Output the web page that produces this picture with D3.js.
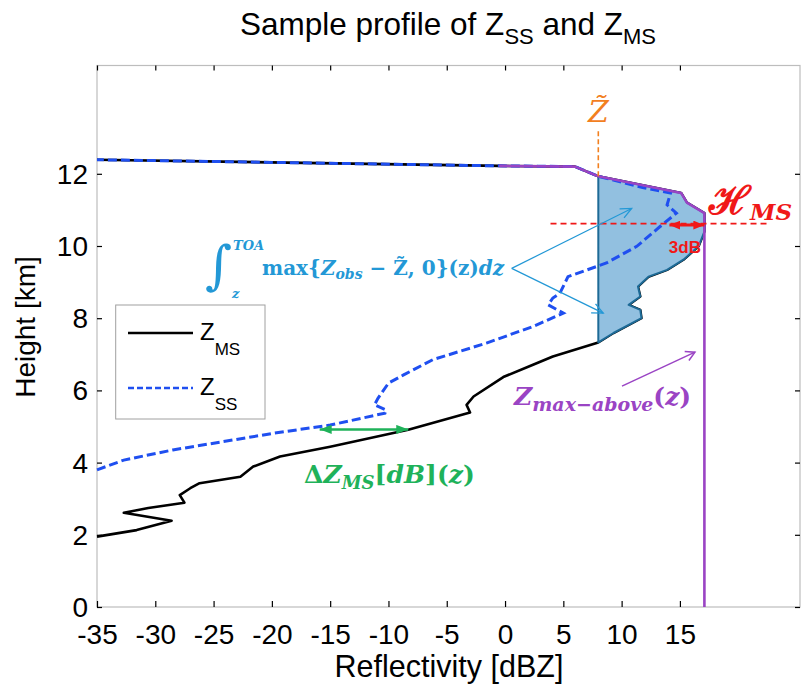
<!DOCTYPE html>
<html><head><meta charset="utf-8">
<script src="https://cdn.jsdelivr.net/npm/d3@7"></script>
<style>body{margin:0;background:#fff} svg{display:block}</style>
</head><body>
<svg id="chart" width="806" height="688"></svg>
<script>
// ---------- data ----------
const xDomain = [-35, 25.3];
const yDomain = [0, 15];
const xTicks = [-35, -30, -25, -20, -15, -10, -5, 0, 5, 10, 15];
const yTicks = [0, 2, 4, 6, 8, 10, 12];

// Z_MS profile [reflectivity dBZ, height km], bottom to top
const zmsProfile = [
  [-35, 1.95], [-31.6, 2.13], [-28.6, 2.39], [-32.7, 2.61], [-30.6, 2.74], [-27.5, 2.89],
  [-27.9, 3.10], [-27.0, 3.29], [-26.2, 3.43], [-22.7, 3.61], [-21.6, 3.89], [-19.3, 4.17],
  [-15.0, 4.44], [-8.3, 4.91], [-3.0, 5.39], [-3.3, 5.60], [-2.7, 5.83], [-0.15, 6.37],
  [2.4, 6.71], [4.1, 6.94], [8.0, 7.33], [9.3, 7.59], [11.7, 8.00], [11.6, 8.23],
  [10.6, 8.37], [11.6, 8.60], [11.4, 8.88], [12.3, 9.15], [13.9, 9.34], [15.3, 9.62],
  [16.6, 9.99], [17.1, 10.40], [17.1, 10.91], [15.6, 11.20], [15.1, 11.47], [8.0, 11.93],
  [6.0, 12.20], [-0.5, 12.22], [-35, 12.39]
];
// Z_SS profile
const zssProfile = [
  [-35, 3.80], [-32.7, 4.07], [-28.5, 4.35], [-24.2, 4.58], [-19.9, 4.81], [-15.0, 5.04],
  [-10.3, 5.37], [-10.2, 5.46], [-11.2, 5.60], [-10.9, 5.78], [-10.0, 6.20], [-8.7, 6.43],
  [-6.2, 6.85], [-1.6, 7.31], [2.4, 7.77], [5.0, 8.14], [3.7, 8.37], [4.1, 8.56],
  [4.7, 8.69], [5.4, 9.15], [8.7, 9.53], [11.3, 9.99], [13.3, 10.54], [14.7, 10.91],
  [13.9, 11.14], [14.2, 11.47], [11.8, 11.62], [8.0, 11.93], [6.0, 12.20], [-0.5, 12.22],
  [-35, 12.39]
];
// Z_max-above(z)
const zMaxAbove = [
  [-0.5, 12.22], [6.0, 12.20], [8.0, 11.93], [15.1, 11.47], [15.6, 11.20], [17.1, 10.91], [17.1, 0]
];
const zTilde = 8.0;
const zTildeTop = 13.2;
const hmsHeight = 10.62;
const hmsPeak = 17.1;
const hmsDrop = 3;
const hmsLineRange = [3.9, 22.7];
const deltaHeight = 4.92;
const deltaRange = [-15.9, -8.3];
const integralArrowFrom = [0.57, 9.38];
const integralArrowTo = [[10.86, 11.04], [8.42, 8.14]];
const maxAboveArrow = [[10.03, 6.12], [16.29, 7.06]];

// ---------- scales ----------
const svg = d3.select('#chart');
const x = d3.scaleLinear().domain(xDomain).range([97, 800]);
const y = d3.scaleLinear().domain(yDomain).range([607, 65.5]);
const line = d3.line().x(d => x(d[0])).y(d => y(d[1]));

const C = {
  ms: '#000', ss: '#1f4ff0', purple: '#9a44c4', orange: '#f2801f', red: '#f01818',
  green: '#1fb25a', cyan: '#2398d6', fill: '#92c0e0', fillStroke: '#1d6a96', frame: '#bdbdbd'
};

// ---------- markers ----------
const defs = svg.append('defs');
function filledMarker(id, color, len, half) {
  defs.append('marker').attr('id', id).attr('markerUnits', 'userSpaceOnUse')
    .attr('viewBox', `0 ${-half} ${len} ${2 * half}`).attr('refX', len).attr('refY', 0)
    .attr('markerWidth', len).attr('markerHeight', 2 * half).attr('orient', 'auto-start-reverse')
    .append('path').attr('d', `M0,${-half}L${len},0L0,${half}Z`).attr('fill', color);
}
function openMarker(id, color, len, half, sw) {
  defs.append('marker').attr('id', id).attr('markerUnits', 'userSpaceOnUse')
    .attr('viewBox', `-2 ${-half - 2} ${len + 4} ${2 * half + 4}`).attr('refX', len).attr('refY', 0)
    .attr('markerWidth', len + 4).attr('markerHeight', 2 * half + 4).attr('orient', 'auto')
    .append('path').attr('d', `M0,${-half}L${len},0L0,${half}`).attr('fill', 'none')
    .attr('stroke', color).attr('stroke-width', sw);
}
filledMarker('arrG', C.green, 12, 4.5);
filledMarker('arrR', C.red, 11, 4.5);
openMarker('arrC', C.cyan, 11, 5, 1.3);
openMarker('arrP', C.purple, 9, 5, 1.5);

// ---------- frame & axes ----------
svg.append('rect').attr('x', x(xDomain[0])).attr('y', y(yDomain[1]))
  .attr('width', x(xDomain[1]) - x(xDomain[0])).attr('height', y(yDomain[0]) - y(yDomain[1]))
  .attr('fill', '#fff').attr('stroke', C.frame).attr('stroke-width', 1.2);

const fontSans = "'Liberation Sans', Arial, Helvetica, sans-serif";
const fmt = d => String(d);
const gx = svg.append('g').attr('transform', `translate(0,${y(0)})`)
  .call(d3.axisBottom(x).tickValues(xTicks).tickSizeInner(-6).tickSizeOuter(0).tickFormat(fmt));
gx.select('.domain').remove();
gx.selectAll('line').attr('stroke', '#000').attr('stroke-width', 1.2);
gx.selectAll('text').attr('y', 37).attr('dy', 0).attr('fill', '#000')
  .style('font-family', fontSans).style('font-size', '28px');

const gxt = svg.append('g').attr('transform', `translate(0,${y(yDomain[1])})`)
  .call(d3.axisTop(x).tickValues(xTicks).tickSizeInner(-5).tickSizeOuter(0).tickFormat(''));
gxt.select('.domain').remove();
gxt.selectAll('line').attr('stroke', '#000').attr('stroke-width', 1.2);

const gy = svg.append('g').attr('transform', `translate(${x(xDomain[0])},0)`)
  .call(d3.axisLeft(y).tickValues(yTicks).tickSizeInner(-5).tickSizeOuter(0).tickFormat(fmt));
gy.select('.domain').remove();
gy.selectAll('line').attr('stroke', '#000').attr('stroke-width', 1.2);
gy.selectAll('text').attr('x', -9).attr('dy', '0.34em').attr('fill', '#000')
  .style('font-family', fontSans).style('font-size', '28px');

const gyr = svg.append('g').attr('transform', `translate(${x(xDomain[1])},0)`)
  .call(d3.axisRight(y).tickValues(yTicks).tickSizeInner(-5).tickSizeOuter(0).tickFormat(''));
gyr.select('.domain').remove();
gyr.selectAll('line').attr('stroke', '#000').attr('stroke-width', 1.2);

// axis labels & title
svg.append('text').attr('x', 449).attr('y', 677).attr('text-anchor', 'middle')
  .style('font-family', fontSans).style('font-size', '30.5px').text('Reflectivity [dBZ]');
svg.append('text').attr('transform', 'translate(35,327) rotate(-90)').attr('text-anchor', 'middle')
  .style('font-family', fontSans).style('font-size', '28px').text('Height [km]');

const title = svg.append('text').attr('x', 240).attr('y', 35)
  .style('font-family', fontSans).style('font-size', '31.5px');
title.append('tspan').text('Sample profile of Z');
title.append('tspan').attr('dy', 9).style('font-size', '22px').text('SS');
title.append('tspan').attr('dy', -9).text(' and Z');
title.append('tspan').attr('dy', 9).style('font-size', '22px').text('MS');

// ---------- data marks ----------
const plot = svg.append('g');
plot.append('path').datum(zmsProfile).attr('d', line)
  .attr('fill', 'none').attr('stroke', C.ms).attr('stroke-width', 2.6).attr('stroke-linejoin', 'round');

// shaded area: Z_MS above Z~ between the two crossings
const i0 = zmsProfile.findIndex(d => d[0] === zTilde);
const i1 = zmsProfile.findIndex((d, i) => i > i0 && d[0] === zTilde);
const excess = zmsProfile.slice(i0, i1 + 1);
plot.append('path').datum(excess).attr('d', d => line(d) + 'Z')
  .attr('fill', C.fill).attr('stroke', C.fillStroke).attr('stroke-width', 2).attr('stroke-linejoin', 'round');

plot.append('path').datum(zssProfile).attr('d', line)
  .attr('fill', 'none').attr('stroke', C.ss).attr('stroke-width', 3).attr('stroke-dasharray', '9,4');

plot.append('path').datum(zMaxAbove).attr('d', line)
  .attr('fill', 'none').attr('stroke', C.purple).attr('stroke-width', 2.6).attr('stroke-linejoin', 'round');

// ---------- annotations ----------
const fontSerif = "'DejaVu Serif', 'Liberation Serif', serif";
// Z tilde
svg.append('line').attr('x1', x(zTilde)).attr('x2', x(zTilde)).attr('y1', y(zmsProfile[i1][1]))
  .attr('y2', y(zTildeTop)).attr('stroke', C.orange).attr('stroke-width', 1.6).attr('stroke-dasharray', '5,3');
svg.append('text').attr('x', x(zTilde)).attr('y', 122).attr('text-anchor', 'middle')
  .style('font-family', fontSerif).style('font-style', 'italic').style('font-size', '30px')
  .attr('fill', C.orange).text('Z\u0303');

// H_MS
svg.append('line').attr('x1', x(hmsLineRange[0])).attr('x2', x(hmsLineRange[1]))
  .attr('y1', y(hmsHeight)).attr('y2', y(hmsHeight))
  .attr('stroke', C.red).attr('stroke-width', 1.6).attr('stroke-dasharray', '6,4');
svg.append('line').attr('x1', x(hmsPeak - hmsDrop)).attr('x2', x(hmsPeak))
  .attr('y1', y(hmsHeight) + 1.5).attr('y2', y(hmsHeight) + 1.5)
  .attr('stroke', C.red).attr('stroke-width', 3)
  .attr('marker-start', 'url(#arrR)').attr('marker-end', 'url(#arrR)');
svg.append('text').attr('x', x(hmsPeak - hmsDrop / 2) - 2).attr('y', 253).attr('text-anchor', 'middle')
  .style('font-family', fontSans).style('font-weight', 'bold').style('font-size', '17px')
  .attr('fill', C.red).text('3dB');
const hms = svg.append('text').attr('x', 709).attr('y', 214).attr('fill', C.red)
  .style('font-family', fontSerif).style('font-weight', 'bold');
hms.append('tspan').style('font-size', '39px').text('\u210B');
hms.append('tspan').attr('dy', 6).style('font-size', '23px').style('font-style', 'italic').text('MS');

// integral annotation
const integ = svg.append('g').attr('fill', C.cyan).style('font-family', fontSerif).style('font-weight', 'bold');
integ.append('text').attr('x', 205).attr('y', 283).style('font-size', '52px').style('font-weight', 'normal').text('\u222B');
integ.append('text').attr('x', 233).attr('y', 250).style('font-size', '13px').style('font-style', 'italic').text('TOA');
integ.append('text').attr('x', 232).attr('y', 298).style('font-size', '13px').style('font-style', 'italic').text('z');
const it = integ.append('text').attr('x', 262).attr('y', 275).style('font-size', '20px');
it.append('tspan').text('max{');
it.append('tspan').style('font-style', 'italic').text('Z');
it.append('tspan').attr('dy', 4).style('font-size', '14px').style('font-style', 'italic').text('obs');
it.append('tspan').attr('dy', -4).text(' \u2212 ');
it.append('tspan').text('Z\u0303');
it.append('tspan').text(', 0}(z)');
it.append('tspan').style('font-style', 'italic').text('dz');

integralArrowTo.forEach(p => {
  svg.append('line').attr('x1', x(integralArrowFrom[0])).attr('y1', y(integralArrowFrom[1]))
    .attr('x2', x(p[0])).attr('y2', y(p[1])).attr('stroke', C.cyan).attr('stroke-width', 1.2)
    .attr('marker-end', 'url(#arrC)');
});

// Z max-above annotation
svg.append('line').attr('x1', x(maxAboveArrow[0][0])).attr('y1', y(maxAboveArrow[0][1]))
  .attr('x2', x(maxAboveArrow[1][0])).attr('y2', y(maxAboveArrow[1][1]))
  .attr('stroke', C.purple).attr('stroke-width', 1.5).attr('marker-end', 'url(#arrP)');
const pm = svg.append('text').attr('x', 514).attr('y', 405).attr('fill', C.purple)
  .style('font-family', fontSerif).style('font-weight', 'bold').style('font-size', '25px');
pm.append('tspan').style('font-style', 'italic').text('Z');
pm.append('tspan').attr('dy', 6).style('font-size', '19px').style('font-style', 'italic').text('max\u2212above');
pm.append('tspan').attr('dy', -6).text('(');
pm.append('tspan').style('font-style', 'italic').text('z');
pm.append('tspan').text(')');

// Delta Z annotation
svg.append('line').attr('x1', x(deltaRange[0])).attr('x2', x(deltaRange[1]))
  .attr('y1', y(deltaHeight)).attr('y2', y(deltaHeight))
  .attr('stroke', C.green).attr('stroke-width', 2.5)
  .attr('marker-start', 'url(#arrG)').attr('marker-end', 'url(#arrG)');
const dz = svg.append('text').attr('x', 304).attr('y', 483).attr('fill', C.green)
  .style('font-family', fontSerif).style('font-weight', 'bold').style('font-size', '25px');
dz.append('tspan').text('\u0394');
dz.append('tspan').style('font-style', 'italic').text('Z');
dz.append('tspan').attr('dy', 6).style('font-size', '18px').style('font-style', 'italic').text('MS');
dz.append('tspan').attr('dy', -6).text('[');
dz.append('tspan').style('font-style', 'italic').text('dB');
dz.append('tspan').text('](');
dz.append('tspan').style('font-style', 'italic').text('z');
dz.append('tspan').text(')');

// ---------- legend ----------
const lg = svg.append('g');
lg.append('rect').attr('x', 115.7).attr('y', 305).attr('width', 149.3).attr('height', 114)
  .attr('fill', '#fff').attr('stroke', '#a0a0a0').attr('stroke-width', 1);
const legendItems = [
  {name: 'Z', sub: 'MS', color: C.ms, dash: null, ly: 333},
  {name: 'Z', sub: 'SS', color: C.ss, dash: '6,3', ly: 388}
];
legendItems.forEach(it => {
  lg.append('line').attr('x1', 128).attr('x2', 193).attr('y1', it.ly).attr('y2', it.ly)
    .attr('stroke', it.color).attr('stroke-width', it.dash ? 2.6 : 2.4)
    .attr('stroke-dasharray', it.dash);
  const t = lg.append('text').attr('x', 200).attr('y', it.ly + 7)
    .style('font-family', fontSans).style('font-size', '24px');
  t.append('tspan').text(it.name);
  t.append('tspan').attr('dy', 15).style('font-size', '17px').text(it.sub);
});
</script>
</body></html>
